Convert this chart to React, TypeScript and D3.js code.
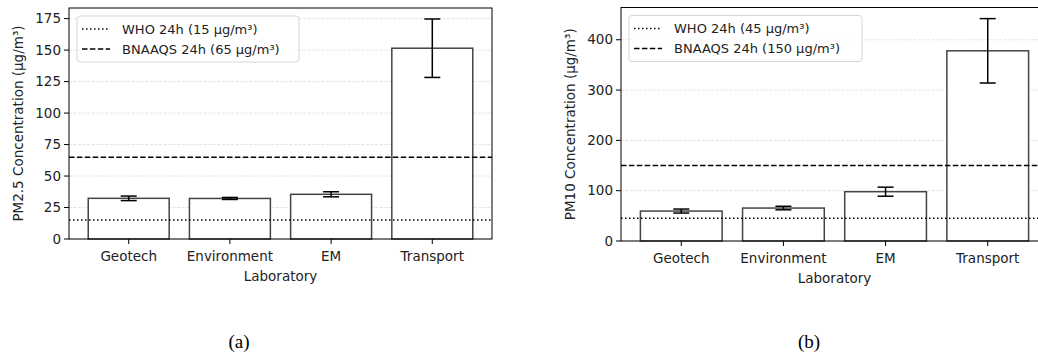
import * as d3 from 'd3';

const labs = ['Geotech', 'Environment', 'EM', 'Transport'];

const pm25Mean = [32.3, 32.2, 35.5, 151.5];
const pm25Err = [1.8, 0.8, 2.0, 23.2];
const pm10Mean = [59.5, 65.5, 98, 378];
const pm10Err = [4, 3.5, 9, 64];

const pm25Who = 15;
const pm25Bnaaqs = 65;
const pm10Who = 45;
const pm10Bnaaqs = 150;

const pm25Ticks = [0, 25, 50, 75, 100, 125, 150, 175];
const pm10Ticks = [0, 100, 200, 300, 400];

const FONT = '"DejaVu Sans", sans-serif';

type PanelProps = {
  left: number;
  right: number;
  top: number;
  bottom: number;
  means: number[];
  errs: number[];
  who: number;
  bnaaqs: number;
  ticks: number[];
  yLabel: string;
  yLabelX: number;
  legendW: number;
  caption: string;
  captionX: number;
};

function Panel(p: PanelProps) {
  const maxV = d3.max(p.means.map((m, i) => m + p.errs[i])) as number;
  const y = d3.scaleLinear().domain([0, maxV * 1.05]).range([p.bottom, p.top]);
  // matplotlib-like bar positions: index scale with 5% margins
  const x = d3.scaleLinear().domain([-0.59, labs.length - 1 + 0.59]).range([p.left, p.right]);
  const bw = x(0.4) - x(0);
  const cap = 8;
  const midX = (p.left + p.right) / 2;
  const lgX = p.left + 8;
  const lgY = p.top + 8;

  return (
    <g>
      {/* grid */}
      {p.ticks.map(t => (
        <line key={'g' + t} x1={p.left} x2={p.right} y1={y(t)} y2={y(t)}
          stroke="#dddddd" strokeWidth={0.8} strokeDasharray="3,1.5" />
      ))}
      {/* bars */}
      {p.means.map((m, i) => (
        <rect key={'b' + i} x={x(i) - bw} y={y(m)} width={bw * 2} height={y(0) - y(m)}
          fill="white" stroke="#444444" strokeWidth={1.5} />
      ))}
      {/* error bars */}
      {p.means.map((m, i) => (
        <g key={'e' + i} stroke="black" strokeWidth={1.5}>
          <line x1={x(i)} x2={x(i)} y1={y(m - p.errs[i])} y2={y(m + p.errs[i])} />
          <line x1={x(i) - cap} x2={x(i) + cap} y1={y(m - p.errs[i])} y2={y(m - p.errs[i])} />
          <line x1={x(i) - cap} x2={x(i) + cap} y1={y(m + p.errs[i])} y2={y(m + p.errs[i])} />
        </g>
      ))}
      {/* reference lines */}
      <line x1={p.left} x2={p.right} y1={y(p.who)} y2={y(p.who)} stroke="black" strokeWidth={1.5} strokeDasharray="1.5,2.5" />
      <line x1={p.left} x2={p.right} y1={y(p.bnaaqs)} y2={y(p.bnaaqs)} stroke="black" strokeWidth={1.5} strokeDasharray="5.5,2.4" />
      {/* spines */}
      <rect x={p.left} y={p.top} width={p.right - p.left} height={p.bottom - p.top} fill="none" stroke="black" strokeWidth={1} />
      {/* y ticks */}
      {p.ticks.map(t => (
        <g key={'t' + t}>
          <line x1={p.left - 5} x2={p.left} y1={y(t)} y2={y(t)} stroke="black" strokeWidth={1} />
          <text x={p.left - 8} y={y(t)} dy="0.35em" textAnchor="end" fontSize={13.5} fontFamily={FONT} fill="#222">{t}</text>
        </g>
      ))}
      {/* x ticks */}
      {labs.map((l, i) => (
        <g key={'x' + i}>
          <line x1={x(i)} x2={x(i)} y1={p.bottom} y2={p.bottom + 5} stroke="black" strokeWidth={1} />
          <text x={x(i)} y={p.bottom + 17} dy="0.35em" textAnchor="middle" fontSize={13.5} fontFamily={FONT} fill="#222">{l}</text>
        </g>
      ))}
      <text x={midX} y={p.bottom + 37} dy="0.35em" textAnchor="middle" fontSize={13.5} fontFamily={FONT} fill="#222">Laboratory</text>
      <text transform={`translate(${p.yLabelX},${(p.top + p.bottom) / 2}) rotate(-90)`} dy="0.35em" textAnchor="middle"
        fontSize={13.5} fontFamily={FONT} fill="#222">{p.yLabel}</text>
      {/* legend */}
      <rect x={lgX} y={lgY} width={p.legendW} height={46} rx={3} fill="white" fillOpacity={0.8} stroke="#d6d6d6" strokeWidth={1} />
      <line x1={lgX + 5} x2={lgX + 33} y1={lgY + 13} y2={lgY + 13} stroke="black" strokeWidth={1.5} strokeDasharray="1.5,2.5" />
      <text x={lgX + 45} y={lgY + 13} dy="0.35em" fontSize={13} fontFamily={FONT} fill="#222">{`WHO 24h (${p.who} μg/m³)`}</text>
      <line x1={lgX + 5} x2={lgX + 33} y1={lgY + 33} y2={lgY + 33} stroke="black" strokeWidth={1.5} strokeDasharray="5.5,2.4" />
      <text x={lgX + 45} y={lgY + 33} dy="0.35em" fontSize={13} fontFamily={FONT} fill="#222">{`BNAAQS 24h (${p.bnaaqs} μg/m³)`}</text>
      {/* caption */}
      <text x={p.captionX} y={341} dy="0.35em" textAnchor="middle" fontSize={19} fontFamily='"Liberation Serif", "Times New Roman", serif' fill="black">{p.caption}</text>
    </g>
  );
}

export default function App() {
  return (
    <svg width={1038} height={358} style={{ position: 'absolute', left: 0, top: 0, background: 'white' }}>
      <Panel left={69} right={492} top={8} bottom={239} means={pm25Mean} errs={pm25Err}
        who={pm25Who} bnaaqs={pm25Bnaaqs} ticks={pm25Ticks}
        yLabel="PM2.5 Concentration (μg/m³)" yLabelX={18} legendW={222} caption="(a)" captionX={239} />
      <Panel left={621} right={1048} top={7.5} bottom={241} means={pm10Mean} errs={pm10Err}
        who={pm10Who} bnaaqs={pm10Bnaaqs} ticks={pm10Ticks}
        yLabel="PM10 Concentration (μg/m³)" yLabelX={570} legendW={233} caption="(b)" captionX={809} />
    </svg>
  );
}
